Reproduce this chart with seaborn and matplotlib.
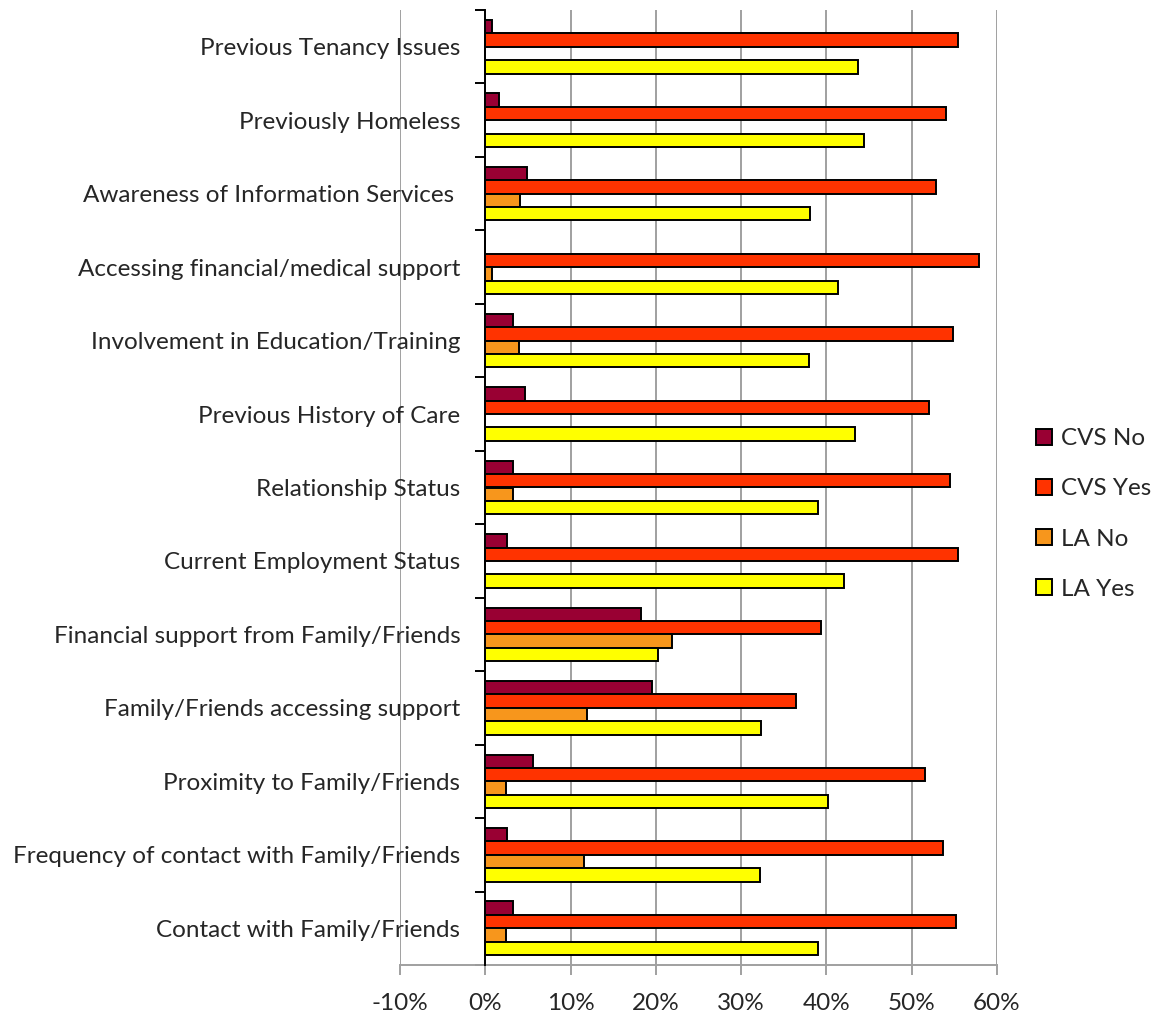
import matplotlib
matplotlib.use("Agg")
import matplotlib.pyplot as plt
from matplotlib.ticker import PercentFormatter, FixedLocator
import pandas as pd
import seaborn as sns

categories = [
    "Previous Tenancy Issues",
    "Previously Homeless",
    "Awareness of Information Services ",
    "Accessing financial/medical support",
    "Involvement in Education/Training",
    "Previous History of Care",
    "Relationship Status",
    "Current Employment Status",
    "Financial support from Family/Friends",
    "Family/Friends accessing support",
    "Proximity to Family/Friends",
    "Frequency of contact with Family/Friends",
    "Contact with Family/Friends",
]
series = ["CVS No", "CVS Yes", "LA No", "LA Yes"]

cvs_no = [0.8, 1.6, 4.9, 0.0, 3.3, 4.7, 3.3, 2.5, 18.3, 19.5, 5.6, 2.5, 3.3]
cvs_yes = [55.4, 54.0, 52.8, 57.9, 54.8, 52.0, 54.5, 55.4, 39.4, 36.4, 51.6, 53.7, 55.2]
la_no = [0.0, 0.0, 4.1, 0.8, 4.0, 0.0, 3.3, 0.0, 21.9, 11.9, 2.4, 11.6, 2.4]
la_yes = [43.7, 44.4, 38.1, 41.3, 37.9, 43.3, 39.0, 42.1, 20.2, 32.3, 40.2, 32.2, 39.0]

colors = ["#990033", "#FF3300", "#F7961C", "#FFFF00"]

rows = []
for name, vals in zip(series, [cvs_no, cvs_yes, la_no, la_yes]):
    for cat, v in zip(categories, vals):
        rows.append({"category": cat, "series": name, "value": v})
df = pd.DataFrame(rows)

sns.set_style("white")
plt.rcParams["font.family"] = ["Lato", "DejaVu Sans"]
plt.rcParams["axes.unicode_minus"] = False

fig = plt.figure(figsize=(11.74, 10.21), dpi=100)
ax = fig.add_axes([400 / 1174, 1 - 965 / 1021, 597 / 1174, 955 / 1021])

sns.barplot(data=df, x="value", y="category", hue="series", order=categories,
            hue_order=series, palette=colors, saturation=1, orient="h", width=0.73,
            edgecolor="black", linewidth=1.4, ax=ax, zorder=3)

ax.set_xlim(-10, 60)
ax.set_ylim(len(categories) - 0.5, -0.5)
ax.set_xticks(range(-10, 61, 10))
ax.xaxis.set_major_formatter(PercentFormatter(xmax=100, decimals=0))
ax.grid(axis="x", color="#A0A0A0", linewidth=1.4, zorder=0)
ax.grid(axis="y", visible=False)
ax.set_axisbelow(True)

for s in ["top", "right"]:
    ax.spines[s].set_visible(False)
ax.spines["bottom"].set_color("#A0A0A0")
ax.spines["bottom"].set_linewidth(1.4)
ax.spines["left"].set_position(("data", 0))
ax.spines["left"].set_color("black")
ax.spines["left"].set_linewidth(1.4)
ax.spines["left"].set_zorder(4)

ax.tick_params(axis="x", direction="out", length=7, width=1.4, color="#A0A0A0",
               labelsize=17.5, pad=13, bottom=True)
ax.tick_params(axis="y", which="major", length=0, labelsize=17.5, pad=18)
ax.yaxis.set_minor_locator(FixedLocator([i - 0.5 for i in range(len(categories) + 1)]))
ax.tick_params(axis="y", which="minor", direction="out", length=7, width=1.4,
               color="black", left=True)
ax.set_xlabel("")
ax.set_ylabel("")

handles, labels = ax.get_legend_handles_labels()
ax.get_legend().remove()
for h in handles:
    h.set_edgecolor("black")
    h.set_linewidth(1.4)
fig.legend(handles, labels, loc="center left", bbox_to_anchor=(1014 / 1174, 1 - 514 / 1021),
           frameon=False, fontsize=17.5, handlelength=0.65, handleheight=0.65,
           handletextpad=0.4, labelspacing=1.2)

fig.savefig("out.png", dpi=100)
